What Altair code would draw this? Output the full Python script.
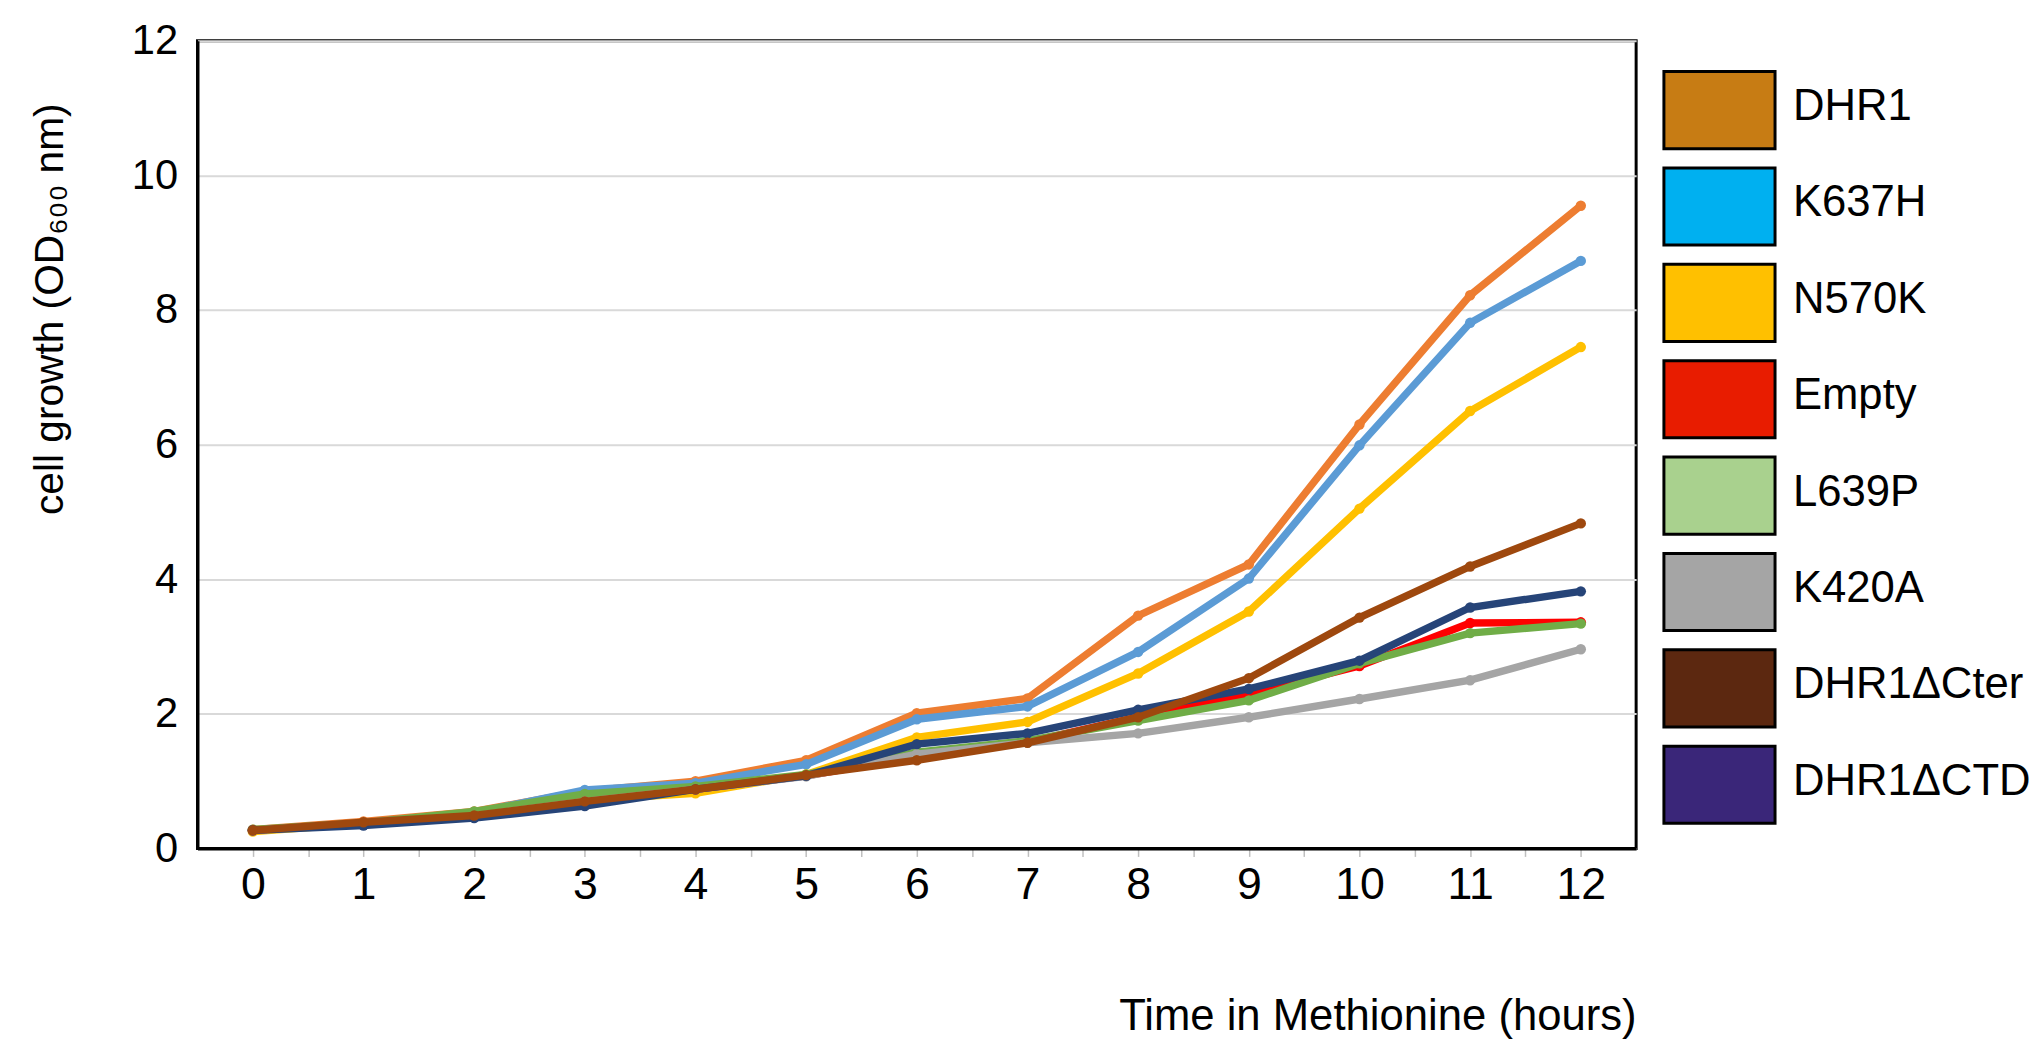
import altair as alt
import pandas as pd

hours = list(range(13))
series_names = ["DHR1", "K637H", "N570K", "Empty", "L639P", "K420A", "DHR1ΔCter", "DHR1ΔCTD"]

dhr1 = [0.28, 0.40, 0.55, 0.85, 1.00, 1.31, 2.01, 2.23, 3.46, 4.22, 6.30, 8.22, 9.55]
k637h = [0.27, 0.38, 0.53, 0.87, 0.97, 1.25, 1.92, 2.11, 2.92, 4.01, 5.99, 7.81, 8.73]
n570k = [0.25, 0.37, 0.50, 0.72, 0.82, 1.10, 1.65, 1.88, 2.60, 3.52, 5.05, 6.50, 7.45]
empty = [0.27, 0.37, 0.48, 0.70, 0.88, 1.08, 1.36, 1.58, 1.95, 2.30, 2.71, 3.35, 3.36]
l639p = [0.28, 0.38, 0.55, 0.81, 0.92, 1.10, 1.43, 1.60, 1.90, 2.20, 2.75, 3.20, 3.34]
k420a = [0.27, 0.37, 0.48, 0.70, 0.88, 1.07, 1.40, 1.57, 1.71, 1.95, 2.22, 2.50, 2.96]
d_cter = [0.27, 0.39, 0.49, 0.70, 0.88, 1.09, 1.31, 1.57, 1.95, 2.53, 3.43, 4.19, 4.83]
d_ctd = [0.27, 0.34, 0.45, 0.63, 0.88, 1.08, 1.55, 1.71, 2.06, 2.37, 2.79, 3.58, 3.82]

series_values = [dhr1, k637h, n570k, empty, l639p, k420a, d_cter, d_ctd]

line_colors = ["#ED7D31", "#5B9BD5", "#FFC000", "#FF0000", "#70AD47", "#A5A5A5", "#9E480E", "#264478"]
legend_colors = ["#C77C14", "#00B0F0", "#FFC000", "#E81C00", "#A9D18E", "#A5A5A5", "#5C2810", "#3A2679"]
draw_order = ["DHR1", "K637H", "N570K", "Empty", "L639P", "K420A", "DHR1ΔCTD", "DHR1ΔCter"]

x_tick_values = [i * 0.5 for i in range(25)]
y_tick_values = [0, 2, 4, 6, 8, 10, 12]

rows = []
for name, vals in zip(series_names, series_values):
    for h, v in zip(hours, vals):
        rows.append({"series": name, "hour": h, "od": v})
df = pd.DataFrame(rows)

FONT = "Liberation Sans"

color_scale = alt.Scale(domain=series_names, range=line_colors)

x_enc = alt.X(
    "hour:Q",
    scale=alt.Scale(domain=[-0.5, 12.5], nice=False, zero=False),
    axis=alt.Axis(
        values=x_tick_values,
        labelExpr="datum.value % 1 === 0 ? format(datum.value, 'd') : ''",
        labelOverlap=False,
        labelFlush=False,
        grid=False,
        domainColor="black",
        domainWidth=3,
        tickColor="#BFBFBF",
        tickWidth=1.5,
        tickSize=8,
        labelFont=FONT,
        labelFontSize=45,
        labelColor="black",
        labelBaseline="alphabetic",
        labelPadding=42,
        title="Time in Methionine (hours)",
        titleFont=FONT,
        titleFontSize=44,
        titleFontWeight="normal",
        titleColor="black",
        titleAnchor="end",
        titleAlign="right",
        titleX=1450,
        titleY=182,
        titleBaseline="alphabetic",
    ),
)
y_enc = alt.Y(
    "od:Q",
    scale=alt.Scale(domain=[0, 12], nice=False),
    axis=alt.Axis(
        values=y_tick_values,
        format="d",
        grid=True,
        gridColor="#D9D9D9",
        gridWidth=2,
        ticks=False,
        domainColor="black",
        domainWidth=3,
        labelFont=FONT,
        labelFontSize=42,
        labelColor="black",
        labelPadding=20,
        title="cell growth (OD₆₀₀ nm)",
        titleFont=FONT,
        titleFontSize=41,
        titleFontWeight="normal",
        titleColor="black",
        titleX=-136,
        titleY=270,
        titleAlign="center",
        titleBaseline="alphabetic",
    ),
)
color_enc = alt.Color("series:N", scale=color_scale, legend=None)

base = alt.Chart(df)
layers = []
for i, name in enumerate(draw_order):
    sub = base.transform_filter(alt.datum.series == name)
    if i == 0:
        layers.append(sub.mark_line(strokeWidth=7.5).encode(x=x_enc, y=y_enc, color=color_enc))
    else:
        layers.append(sub.mark_line(strokeWidth=7.5).encode(x="hour:Q", y="od:Q", color=color_enc))
    layers.append(sub.mark_circle(size=110, opacity=1).encode(x="hour:Q", y="od:Q", color=color_enc))

main = alt.layer(*layers).properties(
    width=1450,
    height=814,
    view=alt.ViewBackground(stroke="black", strokeWidth=3),
)

legend_df = pd.DataFrame({"series": series_names, "fill": legend_colors})
legend_y = alt.Y(
    "series:N",
    sort=series_names,
    axis=None,
    scale=alt.Scale(paddingInner=0.2, paddingOuter=0.29, align=0.55),
)
legend_base = alt.Chart(legend_df)
legend_boxes = legend_base.mark_rect(stroke="black", strokeWidth=3).encode(
    y=legend_y,
    x=alt.value(0),
    x2=alt.value(112),
    fill=alt.Fill("fill:N", scale=None),
)
legend_text = legend_base.mark_text(
    align="left", baseline="middle", dy=-3, font=FONT, fontSize=44, color="black"
).encode(
    y=legend_y,
    x=alt.value(130),
    text="series:N",
)
legend = alt.layer(legend_boxes, legend_text).properties(
    width=350,
    height=814,
    view=alt.ViewBackground(strokeWidth=0),
)

chart = (
    alt.hconcat(main, legend, spacing=24)
    .properties(padding={"left": 20, "top": 6, "right": 2, "bottom": 0})
    .configure(background="white")
    .configure_view(strokeWidth=0)
)

chart.save("out.html", embed_options={"renderer": "svg", "actions": False})
